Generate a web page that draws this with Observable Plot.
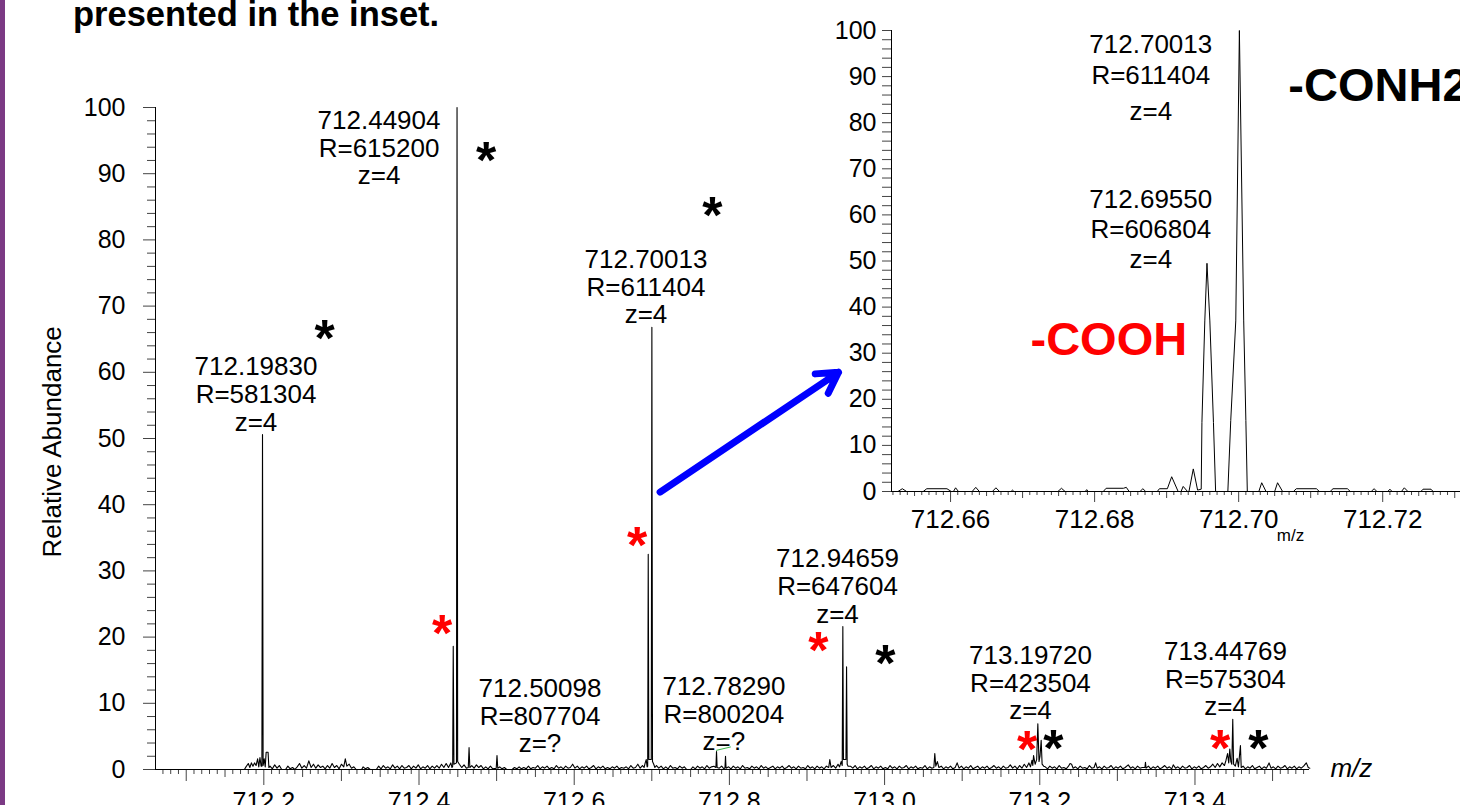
<!DOCTYPE html>
<html><head><meta charset="utf-8">
<script src="https://cdn.jsdelivr.net/npm/d3@7"></script>
<script src="https://cdn.jsdelivr.net/npm/@observablehq/plot@0.6"></script>
<style>
html,body{margin:0;padding:0;background:#fff;overflow:hidden;}
#wrap{position:relative;width:1460px;height:805px;overflow:hidden;font-family:'Liberation Sans',Arial,Helvetica,sans-serif;background:#fff;}
#bar{position:absolute;left:0;top:0;width:5px;height:805px;background:#7b3a84;}
#title{position:absolute;left:73px;top:-3px;font-size:34.5px;font-weight:bold;line-height:34px;white-space:nowrap;color:#000;}
#main{position:absolute;left:0;top:0;width:1460px;}
#inset{position:absolute;left:820px;top:0;width:640px;}
</style></head><body>
<div id="wrap"><div id="main"></div><div id="inset"></div><div id="bar"></div><div id="title">presented in the inset.</div></div>
<script>
// ---------- data ----------
const mainXDomain = [712.0604, 713.5476];
const insetXDomain = [712.6518, 712.7308];

// main spectrum profile: [m/z, relative abundance]
const mainSpectrum = [
[712.0604,0],[712.175,0],[712.177,0.4],[712.180,0.9],[712.182,0.3],[712.184,1.0],[712.186,0.5],[712.188,1.0],[712.190,0.6],[712.192,1.6],[712.1935,0.4],[712.195,1.8],[712.1965,0.5],
[712.1975,0.5],[712.1983,50.6],[712.1991,0.6],[712.2005,1.6],[712.2018,0.4],[712.203,2.6],[712.2055,2.6],[712.2065,0.3],
[712.208,0.5],[712.211,0.1],[712.214,0.7],[712.217,0.2],[712.220,0.6],[712.223,0],[712.228,0],[712.231,0.5],[712.234,0.1],[712.237,0.3],[712.240,0],[712.243,0.4],[712.246,0.9],[712.249,0.2],[712.252,0.6],[712.255,0.2],[712.258,1.3],[712.261,0.3],[712.264,0.8],[712.267,0.2],[712.270,0.7],[712.273,0.3],[712.276,0.5],[712.279,0.1],[712.282,0.6],[712.285,0.2],[712.288,0.9],[712.291,0.3],[712.294,0.6],[712.297,0.1],[712.300,0.8],[712.303,0.4],[712.305,1.6],[712.307,0.5],[712.310,0.8],[712.313,0.2],[712.316,0.4],[712.319,0],[712.326,0],[712.328,0.4],[712.331,0.1],[712.334,0.3],[712.337,0],[712.345,0],[712.348,0.5],[712.351,0.1],[712.354,0.6],[712.357,0.2],[712.360,0.4],[712.363,0.1],[712.366,0.7],[712.369,0.2],[712.372,0.5],[712.375,0.1],[712.378,0.6],[712.381,0.2],[712.384,0.3],[712.387,0.6],[712.390,0.1],[712.393,0.5],[712.396,0.2],[712.399,0.7],[712.402,0.1],[712.405,0.4],[712.408,0.2],[712.411,0.6],[712.414,0.1],[712.417,0.5],[712.420,0.2],[712.423,0.6],[712.426,0.2],[712.429,0.8],[712.432,0.3],[712.435,0.9],[712.438,0.3],[712.441,1.0],[712.4425,0.3],
[712.4434,0.5],[712.4441,18.6],[712.4450,0.8],[712.4483,1.0],[712.4490,100],[712.4498,1.2],
[712.452,0.8],[712.455,0.3],[712.458,0.7],[712.461,0.2],[712.4635,0.3],[712.4645,3.3],[712.4655,0.3],[712.468,0.6],[712.471,0.2],[712.474,0.7],[712.477,0.3],[712.480,0.6],[712.483,0.1],[712.486,0.4],[712.489,0.1],[712.492,0.5],[712.495,0.1],[712.4995,0.2],[712.5005,2.1],[712.5015,0.2],[712.504,0.4],[712.507,0.1],[712.510,0.3],[712.513,0],[712.520,0],[712.523,0.3],[712.526,0.1],[712.529,0.4],[712.532,0.1],[712.535,0.3],[712.538,0.1],[712.541,0.5],[712.544,0.1],[712.547,0.3],[712.550,0.2],[712.553,0.6],[712.556,0.1],[712.559,0.4],[712.562,0.2],[712.565,0.5],[712.568,0.1],[712.571,0.3],[712.574,0.1],[712.577,0.6],[712.580,0.2],[712.583,0.4],[712.586,0.1],[712.589,0.5],[712.592,0.2],[712.595,0.3],[712.598,0.8],[712.601,0.2],[712.604,0.5],[712.607,0.1],[712.610,0.4],[712.613,0.2],[712.616,0.5],[712.619,0.1],[712.622,0.3],[712.625,0.6],[712.628,0.1],[712.631,0.4],[712.634,0.2],[712.637,0.5],[712.640,0.1],[712.643,0.3],[712.646,0.1],[712.649,0.4],[712.652,0.2],[712.655,0.5],[712.658,0.1],[712.661,0.3],[712.664,0.2],[712.667,0.4],[712.670,0.1],[712.673,0.6],[712.676,0.2],[712.679,0.3],[712.682,0.8],[712.685,0.2],[712.688,0.6],[712.690,0.3],[712.6915,1.0],[712.6928,1.5],[712.6940,0.4],
[712.6947,0.5],[712.6954,32.5],[712.6962,1.5],[712.6993,1.5],[712.7001,66.8],[712.7009,1.2],[712.7025,0.8],[712.704,0.3],
[712.706,0.6],[712.709,0.2],[712.712,0.5],[712.715,0.1],[712.718,0.4],[712.721,0.1],[712.724,0.6],[712.727,0.2],[712.730,0.3],[712.733,0.1],[712.736,0.5],[712.739,0.2],[712.742,0.4],[712.745,0],[712.750,0],[712.753,0.4],[712.756,0.1],[712.759,0.5],[712.762,0.2],[712.765,0.4],[712.768,0.1],[712.771,0.6],[712.774,0.2],[712.777,0.4],[712.780,0.5],[712.7826,0.3],[712.7834,2.7],[712.7842,0.3],[712.787,0.2],[712.790,0.5],[712.793,0.1],[712.7943,0.3],[712.7950,2.0],[712.7957,0.2],[712.799,0.4],[712.802,0.1],[712.805,0.5],[712.808,0.2],[712.811,0.4],[712.814,0.1],[712.817,0.6],[712.820,0.2],[712.823,0.3],[712.826,0.1],[712.829,0.5],[712.832,0.2],[712.835,0.4],[712.838,0.1],[712.841,0.6],[712.844,0.2],[712.847,0.4],[712.850,0.1],[712.853,0.3],[712.856,0.5],[712.859,0.1],[712.862,0.4],[712.865,0.2],[712.868,0.5],[712.871,0.1],[712.874,0.3],[712.877,0.6],[712.880,0.2],[712.883,0.4],[712.886,0.1],[712.889,0.5],[712.892,0.2],[712.895,0.3],[712.898,0.1],[712.901,0.6],[712.904,0.2],[712.907,0.4],[712.910,0.1],[712.913,0.5],[712.916,0.2],[712.919,0.4],[712.922,0.1],[712.925,0.5],[712.928,0.3],[712.9294,1.5],[712.931,0.3],[712.934,0.6],[712.937,0.2],[712.940,0.8],[712.942,0.4],[712.944,1.2],[712.9454,0.6],
[712.9462,21.6],[712.9470,1.5],[712.9502,1.5],[712.9510,15.5],[712.9518,0.8],[712.953,0.5],
[712.956,0.5],[712.959,0.2],[712.962,0.6],[712.965,0.1],[712.968,0.4],[712.971,0.2],[712.974,0.5],[712.977,0.1],[712.980,0.3],[712.983,0.6],[712.986,0.1],[712.989,0.4],[712.992,0.2],[712.995,0.5],[712.998,0.1],[713.001,0.3],[713.004,0.1],[713.007,0.6],[713.010,0.2],[713.013,0.4],[713.016,0.1],[713.019,0.5],[713.022,0.2],[713.025,0.3],[713.028,0.6],[713.031,0.1],[713.034,0.4],[713.037,0.2],[713.040,0.5],[713.043,0.1],[713.046,0.3],[713.049,0.2],[713.052,0.6],[713.055,0.1],[713.058,0.4],[713.061,0.2],[713.0635,0.3],[713.0647,2.4],[713.066,0.5],[713.068,1.2],[713.070,0.3],[713.073,0.5],[713.076,0.1],[713.079,0.4],[713.082,0.2],[713.085,0.5],[713.088,0.1],[713.091,0.3],[713.0935,1.0],[713.096,0.2],[713.099,0.5],[713.102,0.1],[713.105,0.4],[713.108,0.2],[713.111,0.6],[713.114,0.1],[713.117,0.3],[713.120,0.5],[713.123,0.1],[713.126,0.4],[713.129,0.2],[713.132,0.5],[713.135,0.1],[713.138,0.3],[713.141,0.6],[713.144,0.2],[713.147,0.4],[713.150,0.1],[713.153,0.5],[713.156,0.2],[713.159,0.3],[713.162,0.7],[713.165,0.2],[713.168,0.5],[713.171,0.1],[713.174,0.6],[713.177,0.2],[713.180,0.8],[713.183,0.3],[713.186,1.0],[713.188,0.4],[713.190,1.4],[713.191,0.6],[713.192,2.1],[713.194,0.8],[713.196,1.5],
[713.1975,6.9],[713.1990,1.2],[713.2003,2.0],[713.2018,4.4],[713.2030,0.8],[713.205,0.5],
[713.207,0.4],[713.210,0.1],[713.213,0.5],[713.216,0.2],[713.219,0.4],[713.222,0.1],[713.225,0.6],[713.228,0.2],[713.231,0.3],[713.234,0.1],[713.237,0.5],[713.239,0.9],[713.241,0.8],[713.243,0.2],[713.246,0.4],[713.249,0.1],[713.252,0.5],[713.255,0.2],[713.258,0.3],[713.261,0.1],[713.264,0.6],[713.267,0.2],[713.270,0.3],[713.272,1.0],[713.274,0.2],[713.277,0.4],[713.280,0.1],[713.283,0.5],[713.286,0.2],[713.289,0.3],[713.292,0.6],[713.295,0.1],[713.298,0.4],[713.301,0.2],[713.304,0.5],[713.307,0.1],[713.310,0.3],[713.314,0.7],[713.317,0.2],[713.320,0.4],[713.323,0.1],[713.326,0.5],[713.329,0.2],[713.332,0.3],[713.3355,0.3],[713.3362,1.1],[713.337,0.2],[713.340,0.5],[713.343,0.1],[713.346,0.4],[713.349,0.2],[713.352,0.5],[713.355,0.1],[713.358,0.3],[713.361,0.6],[713.364,0.2],[713.367,0.4],[713.370,0.1],[713.372,0.7],[713.375,0.2],[713.378,0.4],[713.381,0.1],[713.384,0.5],[713.387,0.2],[713.390,0.3],[713.393,0.6],[713.396,0.1],[713.399,0.4],[713.402,0.2],[713.405,0.5],[713.408,0.1],[713.411,0.3],[713.414,0.6],[713.417,0.2],[713.420,0.4],[713.423,0.8],[713.426,0.3],[713.429,0.9],[713.432,0.4],[713.435,1.0],[713.438,0.6],[713.440,1.4],[713.442,2.4],[713.4435,1.0],[713.4449,3.1],[713.4462,1.2],[713.4475,0.8],
[713.4487,7.6],[713.4498,0.8],[713.452,0.5],[713.4543,1.7],[713.456,0.4],[713.4586,3.6],[713.4596,0.3],
[713.462,0.5],[713.465,0.1],[713.468,0.4],[713.471,0.2],[713.474,0.6],[713.477,0.1],[713.480,0.3],[713.483,0.5],[713.486,0.1],[713.489,0.4],[713.492,0.2],[713.4955,1.0],[713.498,0.2],[713.501,0.4],[713.504,0.1],[713.507,0.5],[713.510,0.2],[713.513,0.3],[713.516,0.6],[713.519,0.1],[713.522,0.4],[713.525,0.2],[713.528,0.5],[713.531,0.1],[713.534,0.4],[713.537,0.2],[713.540,0.5],[713.5435,1.0],[713.546,0.3],[713.548,0.2]
];

// inset spectrum profile
const insetSpectrum = [
[712.6518,0],[712.6527,0],[712.6533,0.6],[712.6539,0],[712.6562,0],[712.6567,0.6],[712.6595,0.6],[712.6601,0],[712.6604,0],[712.6607,0.8],[712.6611,0],[712.6630,0],[712.6635,0.9],[712.6640,0],[712.6658,0],[712.6663,0.8],[712.6668,0],[712.6684,0],[712.6686,0.3],[712.6688,0],[712.6749,0],[712.6754,0.7],[712.6759,0],[712.6787,0],[712.6789,0.4],[712.6791,0],[712.6812,0],[712.6816,0.7],[712.6840,0.7],[712.6844,0.9],[712.6848,0],[712.6863,0],[712.6867,0.6],[712.6871,0],[712.6887,0],[712.6890,0.6],[712.6901,0.6],[712.6907,3.2],[712.6916,0],[712.6920,0],[712.6923,1.1],[712.6929,0],[712.6931,0],[712.6937,4.9],[712.6943,0.3],[712.6948,0.5],
[712.6949,15],[712.6953,37],[712.6956,49.5],[712.6960,37],[712.6965,15],[712.6968,0],[712.6985,0],
[712.6989,15.4],[712.6996,37],[712.7001,100],[712.7007,37],[712.7010,15.4],[712.7012,0],
[712.7028,0],[712.7032,1.9],[712.7038,0],[712.7050,0],[712.7054,1.9],[712.7061,0],[712.7076,0],[712.7080,0.6],[712.7108,0.6],[712.7112,0],[712.7127,0],[712.7131,0.6],[712.7151,0.6],[712.7155,0],[712.7184,0],[712.7188,0.6],[712.7192,0],[712.7207,0],[712.7210,0.5],[712.7213,0],[712.7226,0],[712.7230,0.8],[712.7235,0],[712.7253,0],[712.7256,0.5],[712.7267,0.5],[712.7270,0],[712.7308,0]
];

// peak annotations (main)
const annLabels = ["712.19830\nR=581304\nz=4","712.44904\nR=615200\nz=4","712.70013\nR=611404\nz=4","712.94659\nR=647604\nz=4","712.50098\nR=807704\nz=?","712.78290\nR=800204\nz=?","713.19720\nR=423504\nz=4","713.44769\nR=575304\nz=4"];
const annMz = [712.1899, 712.3485, 712.6925, 712.9393, 712.5559, 712.7929, 713.1880, 713.4393];
const annY  = [51.2, 88.4, 67.4, 22.2, 2.6, 2.9, 7.6, 8.2];

// asterisks
const blackStarMz = [712.4866, 712.7782, 712.2782, 713.0011, 713.2176, 713.4818];
const blackStarY  = [93.2, 84.9, 66.3, 17.2, 4.4, 4.4];
const redStarMz   = [712.4299, 712.6812, 712.9148, 713.1838, 713.4325];
const redStarY    = [21.8, 35.0, 19.2, 4.3, 4.4];

// arrow (main coordinates)
const arrowMz = [712.7107, 712.9406];
const arrowY  = [41.9, 60.0];
// small green connector near 712.78
const greenLink = [[712.7834, 2.9], [712.8014, 3.4]];

// inset annotations
const insetAnnText = ["712.70013","R=611404","z=4","712.69550","R=606804","z=4"];
const insetAnnY = [95.2, 88.5, 80.5, 61.6, 54.9, 48.4];
const insetAnnMz = 712.6878;

const mainYMajor = [0,10,20,30,40,50,60,70,80,90,100];
const insetYMajor = [0,10,20,30,40,50,60,70,80,90,100];

// ---------- drawing ----------
const FONT = "'Liberation Sans', Arial, Helvetica, sans-serif";
const TICK = "#444";
const hund = d3.range(71207, 71355);
const xt = f => hund.filter(f).map(d => d / 100);
const yMinor = d3.range(0, 101, 2).filter(d => d % 10 !== 0);
const blank = () => "";

const main = Plot.plot({
  width: 1460, height: 805,
  marginLeft: 155, marginRight: 151, marginTop: 107, marginBottom: 36,
  x: {domain: mainXDomain, label: null},
  y: {domain: [0, 100], label: null},
  style: {fontFamily: FONT, fontSize: "25px", color: "#000", background: "transparent", overflow: "visible"},
  marks: [
    Plot.axisX(xt(d => d % 5 !== 0), {tickSize: 5, tickFormat: blank, stroke: TICK, label: null}),
    Plot.axisX(xt(d => d % 5 === 0 && d % 10 !== 0), {tickSize: 8, tickFormat: blank, stroke: TICK, label: null}),
    Plot.axisX(xt(d => d % 10 === 0 && d % 20 !== 0), {tickSize: 12, tickFormat: blank, stroke: TICK, label: null}),
    Plot.axisX(xt(d => d % 20 === 0), {tickSize: 16, tickPadding: 7, tickFormat: d3.format(".1f"), stroke: TICK, label: null}),
    Plot.axisY(mainYMajor, {tickSize: 12, tickPadding: 18, stroke: TICK, label: null}),
    Plot.axisY(yMinor, {tickSize: 8, tickFormat: blank, stroke: TICK, label: null}),
    Plot.ruleY([0], {stroke: "#000"}),
    Plot.ruleX([mainXDomain[0]], {y1: 0, y2: 100, stroke: "#000"}),
    Plot.line(mainSpectrum, {x: d => d[0], y: d => d[1], stroke: "#000", strokeWidth: 1.1}),
    Plot.line(greenLink, {x: d => d[0], y: d => d[1], stroke: "#3cb44b", strokeWidth: 1}),
    Plot.text(annLabels, {x: (d, i) => annMz[i], y: (d, i) => annY[i], text: d => d, lineAnchor: "bottom", lineHeight: 1.06, fontSize: 26, fill: "#000"}),
    Plot.text(blackStarMz, {x: d => d, y: (d, i) => blackStarY[i], text: () => "*", fontSize: 52, fontWeight: "bold", fill: "#000", dy: 9}),
    Plot.text(redStarMz, {x: d => d, y: (d, i) => redStarY[i], text: () => "*", fontSize: 52, fontWeight: "bold", fill: "#ff0000", dy: 9}),
    Plot.arrow([0], {x1: arrowMz[0], y1: arrowY[0], x2: arrowMz[1], y2: arrowY[1], stroke: "#0000ff", strokeWidth: 7, headLength: 5}),
    Plot.text(["Relative Abundance"], {x: 711.9277, y: 49.5, rotate: -90, textAnchor: "middle", fontSize: 26, fill: "#000"}),
    Plot.text(["m/z"], {x: 713.5746, y: -1.2, textAnchor: "start", lineAnchor: "bottom", fontSize: 26, fontStyle: "italic", fill: "#000"})
  ]
});
document.getElementById("main").append(main);

const thou = d3.range(712652, 712731);
const it = f => thou.filter(f).map(d => d / 1000);
const inset = Plot.plot({
  width: 640, height: 560,
  marginLeft: 71, marginRight: 0, marginTop: 30, marginBottom: 69,
  x: {domain: insetXDomain, label: null},
  y: {domain: [0, 100], label: null},
  style: {fontFamily: FONT, fontSize: "25px", color: "#000", background: "transparent", overflow: "visible"},
  marks: [
    Plot.axisX(it(d => d % 5 !== 0), {tickSize: 4, tickFormat: blank, stroke: TICK, label: null}),
    Plot.axisX(it(d => d % 5 === 0 && d % 10 !== 0), {tickSize: 5, tickFormat: blank, stroke: TICK, label: null}),
    Plot.axisX(it(d => d % 10 === 0 && d % 20 !== 0), {tickSize: 7, tickFormat: blank, stroke: TICK, label: null}),
    Plot.axisX(it(d => d % 20 === 0), {tickSize: 11, tickPadding: 7, tickFormat: d3.format(".2f"), fontSize: 26, stroke: TICK, label: null}),
    Plot.axisY(insetYMajor, {tickSize: 9, tickPadding: 6, stroke: TICK, label: null}),
    Plot.axisY(yMinor, {tickSize: 9, tickFormat: blank, stroke: TICK, label: null}),
    Plot.ruleY([0], {stroke: "#000"}),
    Plot.ruleX([insetXDomain[0]], {y1: 0, y2: 100, stroke: "#000"}),
    Plot.line(insetSpectrum, {x: d => d[0], y: d => d[1], stroke: "#000", strokeWidth: 1}),
    Plot.text(insetAnnText, {x: insetAnnMz, y: (d, i) => insetAnnY[i], text: d => d, lineAnchor: "bottom", fontSize: 26, fill: "#000"}),
    Plot.text(["-COOH"], {x: 712.6711, y: 29.7, textAnchor: "start", lineAnchor: "bottom", fontSize: 47, fontWeight: "bold", fill: "#ff0000"}),
    Plot.text(["-CONH2"], {x: 712.7069, y: 84.6, textAnchor: "start", lineAnchor: "bottom", fontSize: 47, fontWeight: "bold", fill: "#000"}),
    Plot.text(["m/z"], {x: 712.7053, y: -10.8, textAnchor: "start", lineAnchor: "bottom", fontSize: 17, fill: "#000"})
  ]
});
document.getElementById("inset").append(inset);
</script>
</body></html>
